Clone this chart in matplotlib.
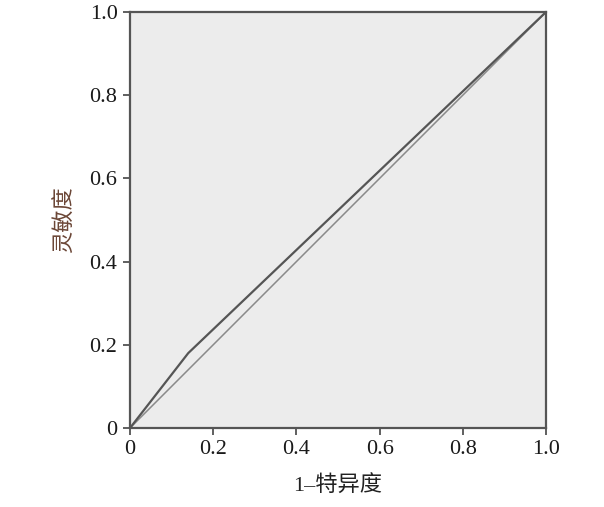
import matplotlib
matplotlib.use("Agg")
import matplotlib.pyplot as plt

# ROC curve data
fpr = [0.0, 0.14, 1.0]
tpr = [0.0, 0.18, 1.0]
ref_x = [0.0, 1.0]
ref_y = [0.0, 1.0]
ticks = [0.0, 0.2, 0.4, 0.6, 0.8, 1.0]
tick_labels = ["0", "0.2", "0.4", "0.6", "0.8", "1.0"]

plt.rcParams["font.family"] = ["Liberation Serif", "Noto Sans CJK SC"]

fig = plt.figure(figsize=(6.04, 5.07), dpi=100)
ax = fig.add_axes([130 / 604, 79 / 507, 416 / 604, 416 / 507])
ax.set_facecolor("#ececec")

ax.plot(ref_x, ref_y, color="#8a8a8a", lw=1.1)
ax.plot(fpr, tpr, color="#555555", lw=1.6)

ax.set_xlim(0, 1)
ax.set_ylim(0, 1)
ax.set_xticks(ticks)
ax.set_xticklabels(tick_labels)
ax.set_yticks(ticks)
ax.set_yticklabels(tick_labels)
ax.tick_params(direction="out", length=5, width=1.2, color="#444444",
               labelsize=16, labelcolor="#1a1a1a", pad=4)

for s in ax.spines.values():
    s.set_color("#555555")
    s.set_linewidth(1.6)

ax.set_xlabel("1–特异度", fontsize=16, color="#222222", labelpad=12)
ax.set_ylabel("灵敏度", fontsize=16, color="#6b4636", labelpad=10)

fig.savefig("out.png", dpi=100)
